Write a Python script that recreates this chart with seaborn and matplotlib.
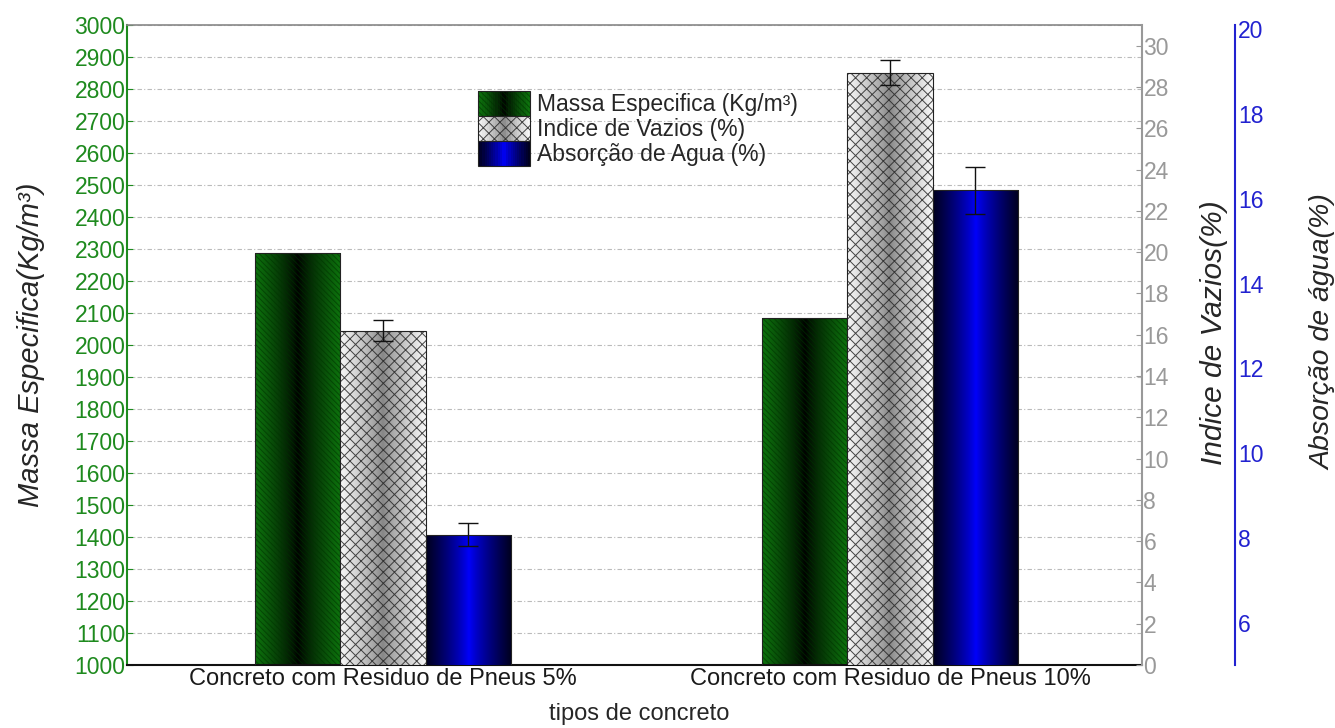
import numpy as np
import pandas as pd
import matplotlib
matplotlib.use("Agg")
import matplotlib.pyplot as plt
from matplotlib.patches import Rectangle
from matplotlib.legend_handler import HandlerBase
import seaborn as sns

tipos = ['Concreto com Residuo de Pneus 5%', 'Concreto com Residuo de Pneus 10%']
series = ['Massa Especifica (Kg/m³)', 'Indice de Vazios (%)', 'Absorção de Agua (%)']
massa = [2287, 2085]
vazios = [16.2, 28.7]
vazios_err = [0.5, 0.6]
absorcao = [8.07, 16.2]
absorcao_err = [0.27, 0.55]

df = pd.DataFrame({
    'tipo': tipos * 3,
    'serie': [series[0]] * 2 + [series[1]] * 2 + [series[2]] * 2,
    'valor': massa + vazios + absorcao,
})

sns.set_style('white')
plt.rcParams['font.family'] = ['Liberation Sans', 'DejaVu Sans']
plt.rcParams['hatch.linewidth'] = 0.7

GREEN = '#1e8a1e'
GRAY = '#999999'
BLUE = '#2222d0'

# edge color, center color, hatch, hatch color
styles = {
    series[0]: ((0.05, 0.45, 0.05), (0.0, 0.0, 0.0), '\\\\\\\\\\\\', (0.0, 0.2, 0.0, 0.6)),
    series[1]: ((0.97, 0.97, 0.97), (0.52, 0.52, 0.52), 'xxx', (0.15, 0.15, 0.15, 0.85)),
    series[2]: ((0.0, 0.0, 0.12), (0.0, 0.0, 1.0), None, None),
}
palette = {s: styles[s][1] for s in series}


def gradient(edge, center, n=64):
    t = np.linspace(0, 1, n)
    w = np.abs(2 * t - 1) ** 0.8
    e = np.array(edge)
    c = np.array(center)
    return (c[None, :] * (1 - w[:, None]) + e[None, :] * w[:, None])[None, :, :]


fig = plt.figure(figsize=(13.35, 7.28), dpi=100)
ax1 = fig.add_axes([0.095, 0.0865, 0.7605, 0.879])
ax2 = ax1.twinx()
ax3 = ax1.twinx()

axes = [ax1, ax2, ax3]
for ax, s in zip(axes, series):
    sns.barplot(data=df[df.serie == s], x='tipo', y='valor', hue='serie',
                hue_order=series, order=tipos, palette=palette, dodge=True,
                width=0.505, ax=ax, legend=False, errorbar=None,
                edgecolor='#222222', linewidth=0.8)

ax1.set_xlim(-0.505, 1.497)
ax1.set_ylim(1000, 3000)
ax1.set_yticks(np.arange(1000, 3001, 100))
ax2.set_ylim(0, 31)
ax2.set_yticks(np.arange(0, 31, 2))
ax3.set_ylim(5, 20.1)
ax3.set_yticks(np.arange(6, 21, 2))
for ax in axes:
    ax.set_autoscale_on(False)

errs = [None, vazios_err, absorcao_err]
vals = [massa, vazios, absorcao]
for ax, s, err, v in zip(axes, series, errs, vals):
    edge, center, hatch, hcol = styles[s]
    ymin = ax.get_ylim()[0]
    bars = [p for p in ax.patches if isinstance(p, Rectangle)]
    for p in bars:
        x0, y0 = p.get_x(), p.get_y()
        w, h = p.get_width(), p.get_height()
        p.set_facecolor('none')
        p.set_zorder(3)
        yb = max(y0, ymin)
        im = ax.imshow(gradient(edge, center), extent=(x0, x0 + w, yb, y0 + h),
                       aspect='auto', zorder=2, interpolation='bilinear')
        im.set_clip_path(p)
        if hatch:
            ax.add_patch(Rectangle((x0, yb), w, y0 + h - yb, facecolor='none', edgecolor=hcol,
                                   hatch=hatch, linewidth=0, zorder=2.5))
    if err is not None:
        xs = [p.get_x() + p.get_width() / 2 for p in bars]
        ax.errorbar(xs, v, yerr=err, fmt='none', ecolor='#111111', elinewidth=1,
                    capsize=7, capthick=1, zorder=4)

ax1.grid(axis='y', color='#bbbbbb', linestyle=(0, (4, 2, 1, 2)), linewidth=0.8)
ax1.grid(axis='x', visible=False)
ax1.set_axisbelow(True)

ax1.tick_params(axis='y', colors=GREEN, labelsize=16.5, direction='in', length=4, pad=1)
ax1.tick_params(axis='x', length=0, labelsize=17, labelcolor='#1a1a1a', pad=2)
ax2.tick_params(axis='y', colors=GRAY, labelsize=16.5, direction='in', length=4, pad=1)
ax3.tick_params(axis='y', colors=BLUE, labelsize=16.5, length=0, pad=2)

ax1.spines['left'].set_color(GREEN)
ax1.spines['left'].set_linewidth(1.5)
ax1.spines['bottom'].set_color('#111111')
ax1.spines['bottom'].set_linewidth(1.5)
ax1.spines['top'].set_color('#888888')
ax1.spines['top'].set_linewidth(1.2)
ax1.spines['right'].set_visible(False)
for k in ['left', 'top', 'bottom']:
    ax2.spines[k].set_visible(False)
    ax3.spines[k].set_visible(False)
ax2.spines['right'].set_color(GRAY)
ax2.spines['right'].set_linewidth(1.5)
ax3.spines['right'].set_position(('axes', 1.092))
ax3.spines['right'].set_color(BLUE)
ax3.spines['right'].set_linewidth(1.5)

ax1.set_xlabel('tipos de concreto', fontsize=17, va='top')
ax1.xaxis.set_label_coords(0.505, -0.06)
ax1.set_ylabel('Massa Especifica(Kg/m³)', fontsize=21, style='italic')
ax1.yaxis.set_label_coords(-0.081, 0.5)
ax2.set_ylabel('Indice de Vazios(%)', fontsize=21.5, style='italic')
ax2.yaxis.set_label_coords(1.057, 0.52)
ax3.set_ylabel('Absorção de água(%)', fontsize=20.5, style='italic')
ax3.yaxis.set_label_coords(1.166, 0.52)


class GradHandler(HandlerBase):
    def create_artists(self, legend, orig_handle, xdescent, ydescent, width, height,
                       fontsize, trans):
        edge, center, hatch, hcol = styles[orig_handle.get_label()]
        cols = gradient(edge, center, 24)[0]
        n = len(cols)
        arts = []
        for i, c in enumerate(cols):
            arts.append(Rectangle((-xdescent + width * i / n, -ydescent), width / n + 0.3,
                                  height, facecolor=c, edgecolor='none', transform=trans))
        if hatch:
            arts.append(Rectangle((-xdescent, -ydescent), width, height, facecolor='none',
                                  edgecolor=hcol, hatch=hatch, linewidth=0, transform=trans))
        arts.append(Rectangle((-xdescent, -ydescent), width, height, facecolor='none',
                              edgecolor='#222222', linewidth=0.8, transform=trans))
        return arts


handles = [Rectangle((0, 0), 1, 1, label=s) for s in series]
fig.legend(handles=handles, labels=series, handler_map={Rectangle: GradHandler()},
           loc='upper left', bbox_to_anchor=(478 / 1335, 1 - 91 / 728), frameon=False,
           fontsize=16.5, handlelength=2.27, handleheight=1.3, handletextpad=0.3,
           labelspacing=0.0, borderpad=0.0, borderaxespad=0.0)

fig.savefig('out.png', dpi=100)
